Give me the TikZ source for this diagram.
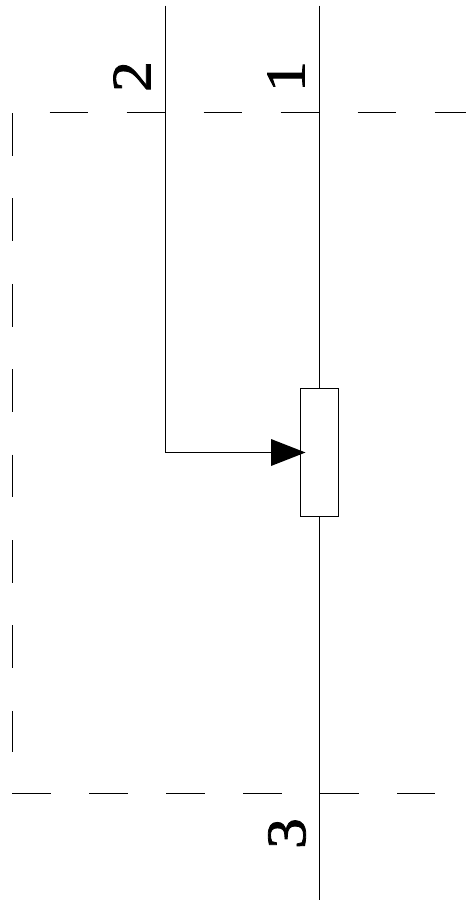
\documentclass[tikz,border=0pt]{standalone}
\usepackage{fontspec}
\usepackage{graphicx}
\setmainfont{Liberation Serif}
\newfontfamily\digitfont{Liberation Serif}[FakeBold=1.4]
\newcommand{\wdg}[1]{\scalebox{1.1}[1]{#1}}
\begin{document}
\begin{tikzpicture}[x=1pt,y=-1pt,
  wire/.style={draw=black,line width=1pt},
  dashh/.style={draw=black,line width=1pt,dash pattern=on 38.5pt off 38.5pt},
  dashv/.style={draw=black,line width=1pt,dash pattern=on 42.7pt off 42.7pt},
  lbl/.style={inner sep=0pt,outer sep=0pt,rotate=90,font=\digitfont\fontsize{56}{56}\selectfont},
  resbox/.style={draw=black,line width=1pt,fill=white,minimum width=38.5pt,minimum height=128pt,inner sep=0pt,outer sep=0pt}]
\useasboundingbox (0,0) rectangle (466,902);
% dashed outline
\coordinate (ht) at (49.5,112); \coordinate (hte) at (466,112);
\coordinate (vl) at (12,113); \coordinate (vle) at (12,752);
\coordinate (hb) at (12,793); \coordinate (hbe) at (435,793);
\draw[dashh] (ht) -- (hte);
\draw[dashv] (vl) -- (vle);
\draw[dashh] (hb) -- (hbe);
% main wires
\coordinate (t1) at (319,5.5); \coordinate (b3) at (319,899.5);
\coordinate (t2) at (165.5,5.5); \coordinate (bend) at (165.5,452.5);
\node[resbox] (res) at (319.25,452.5) {};
\coordinate (tip) at (305.5,452.5);
\coordinate (base) at (271,452.5);
\draw[wire] (t1) -- (t1 |- res.north);
\draw[wire] (b3 |- res.south) -- (b3);
\draw[wire] (t2) -- (bend) -- (base);
\fill[black] (271,439) -- (tip) -- (271,466) -- cycle;
% labels
\node[lbl] (n2) at (132,76.5) {\wdg{2}};
\node[lbl] (n1) at (286,76.5) {\wdg{1}};
\node[lbl] (n3) at (287,833.5) {\wdg{3}};
\end{tikzpicture}
\end{document}
